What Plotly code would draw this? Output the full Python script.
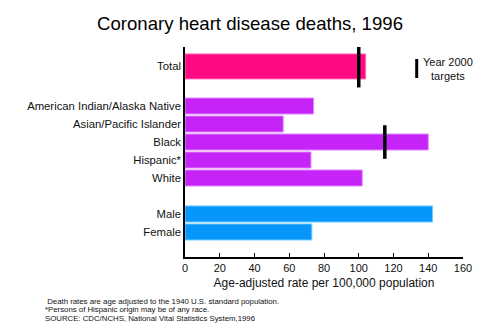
import plotly.graph_objects as go

# Age-adjusted coronary heart disease death rates, 1996
categories = ["Total", "American Indian/Alaska Native", "Asian/Pacific Islander",
              "Black", "Hispanic*", "White", "Male", "Female"]
rates = [104, 74, 56.5, 140, 72.5, 102, 142.5, 73]
row_pos = [9.2, 7, 6, 5, 4, 3, 1, 0]
bar_width = [1.39, 0.89, 0.89, 0.89, 0.89, 0.89, 0.89, 0.89]
fill_colors = ["#FF0A84"] + ["#C623F7"] * 5 + ["#0796FB"] * 2
edge_colors = ["#FF6FB8"] + ["#DD88FF"] * 5 + ["#6FCBFF"] * 2

# Year 2000 targets
target_groups = ["Total", "Black"]
target_values = [100, 115]
target_pos = [9.2, 5]
target_sizes = [30, 24]

x_ticks = [0, 20, 40, 60, 80, 100, 120, 140, 160]

fig = go.Figure()
fig.add_trace(go.Bar(
    x=rates, y=row_pos, orientation="h", width=bar_width,
    marker=dict(color=fill_colors, line=dict(color=edge_colors, width=1)),
    hovertext=categories, showlegend=False,
))
fig.add_trace(go.Scatter(
    x=target_values, y=target_pos, mode="markers",
    marker=dict(symbol="line-ns", size=target_sizes, color="#000000", opacity=1,
                line=dict(color="#000000", width=3.5)),
    hovertext=target_groups, showlegend=False,
))

font_family = "Liberation Sans, Arial, Helvetica, sans-serif"

fig.update_layout(
    width=500, height=333,
    margin=dict(l=185, r=37, t=47, b=76),
    paper_bgcolor="white", plot_bgcolor="white",
    font=dict(family=font_family, color="#111111", size=11),
    title=dict(text="Coronary heart disease deaths, 1996", x=0.5, xanchor="center",
               y=0.93, yanchor="middle", font=dict(size=18.6, color="#000000")),
    xaxis=dict(range=[0, 160], tickvals=x_ticks, showgrid=False, zeroline=False,
               showline=True, linecolor="black", linewidth=1.5,
               ticks="inside", ticklen=4, tickcolor="black", tickwidth=1,
               tickfont=dict(size=11),
               title=dict(text="Age-adjusted rate per 100,000 population",
                          font=dict(size=12), standoff=6)),
    yaxis=dict(range=[-1.39, 10.28], tickvals=row_pos, ticktext=categories,
               showgrid=False, zeroline=False, showline=True, linecolor="black",
               linewidth=1.5, ticks="", ticklabelstandoff=0, tickfont=dict(size=11.3)),
)

# Legend for target markers
fig.add_shape(type="line", xref="paper", yref="paper",
              x0=(416.7 - 185) / 278, x1=(416.7 - 185) / 278,
              y0=(257 - 59) / 210, y1=(257 - 78) / 210,
              line=dict(color="black", width=3))
fig.add_annotation(xref="paper", yref="paper", x=(448 - 185) / 278, y=(257 - 68.5) / 210,
                   text="Year 2000<br>targets", showarrow=False, xanchor="center",
                   yanchor="middle", font=dict(size=11), align="center")

# Footnotes
notes = [" Death rates are age adjusted to the 1940 U.S. standard population.",
         "*Persons of Hispanic origin may be of any race.",
         "SOURCE: CDC/NCHS, National Vital Statistics System,1996"]
for i, line in enumerate(notes):
    fig.add_annotation(xref="paper", yref="paper", x=(43 - 185) / 278,
                       y=(257 - (301 + 8.5 * i)) / 210, text=line, showarrow=False,
                       xanchor="left", yanchor="middle", font=dict(size=7.8))

fig.write_html("out.html")
